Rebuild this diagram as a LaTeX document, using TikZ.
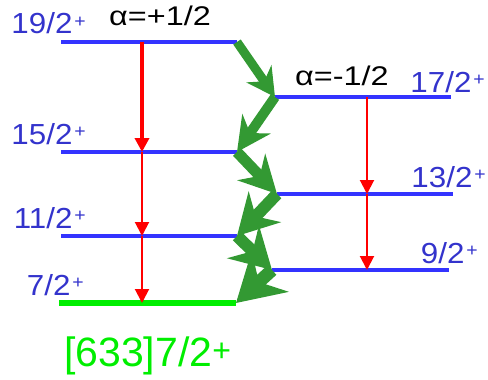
\documentclass[tikz,border=0pt]{standalone}
\usepackage{fontspec}
\setmainfont{Liberation Sans}
\newfontfamily\widefont[FakeStretch=1.08]{Liberation Sans}
\newfontfamily\sigfont[FakeStretch=1.2]{Liberation Sans}
\usetikzlibrary{arrows.meta,calc}
\definecolor{lvlblue}{HTML}{3333FF}
\definecolor{txtblue}{HTML}{3333CC}
\definecolor{bandgreen}{HTML}{339933}
\definecolor{gsgreen}{HTML}{00EE00}
\newcommand{\jpi}[3][18]{#3\kern2pt\raisebox{#2}{\fontsize{#1}{#1}\selectfont +}}
\tikzset{>=Latex,level/.style={lvlblue,line width=3.5pt},gslevel/.style={gsgreen,line width=5.5pt},spinlbl/.style={text=txtblue,font=\widefont\fontsize{29}{31}\selectfont,inner sep=0pt},sigtxt/.style={font=\sigfont\fontsize{27}{30}\selectfont,inner sep=0pt},gam/.style={-{Triangle[length=14pt,width=14pt]},red,line width=2pt},mone/.style n args={4}{-{Stealth[length=#1pt,width=#2pt,inset=#3pt]},bandgreen,line width=#4pt}}

\begin{document}
\begin{tikzpicture}[x=1pt,y=-1pt]
\useasboundingbox (0,0) rectangle (488,380);
% alpha=+1/2 band
\coordinate (w19) at (61,42); \coordinate (e19) at (237,42);
\coordinate (w15) at (61,152); \coordinate (e15) at (237,152);
\coordinate (w11) at (61,236); \coordinate (e11) at (237,236);
\coordinate (w7) at (59,303); \coordinate (e7) at (236,303);
% alpha=-1/2 band
\coordinate (w17) at (275,97); \coordinate (e17) at (451,97);
\coordinate (w13) at (277,194); \coordinate (e13) at (453,194);
\coordinate (w9) at (272,270); \coordinate (e9) at (449,270);
\foreach \s in {19,15,11,17,13,9}
\draw[level] (w\s) -- (e\s);
\draw[gslevel] (w7) -- (e7);
% spin labels
\foreach \s in {19,15,11,7}
\node[spinlbl,anchor=base east] (j\s) at ([shift={(25,-8)}]w\s) {\jpi{6.5pt}{\s/2}};
\node[spinlbl,anchor=base east] (j17) at ([shift={(34,-5)}]e17) {\jpi{7pt}{17/2}};
\node[spinlbl,anchor=base east] (j13) at ([shift={(33,-7)}]e13) {\jpi{7pt}{13/2}};
\node[spinlbl,anchor=base east] (j9) at ([shift={(29,-7)}]e9) {\jpi{7pt}{9/2}};
\node[sigtxt,anchor=base west] (sp) at (109,26) {α=+1/2};
\node[sigtxt,anchor=base west] (sm) at (295,85) {α=-1/2};
\node[text=gsgreen,font=\fontsize{41}{44}\selectfont,inner sep=0pt,anchor=base west] (nil) at (64,366) {[633]7/2\raisebox{4.8pt}{\fontsize{32}{32}\selectfont +}};
% E2 transitions
\coordinate (g19) at (142,42); \coordinate (g15) at (142,152);
\coordinate (g11) at (142,236); \coordinate (g7) at (142,303);
\coordinate (g17) at (367,97); \coordinate (g13) at (367,194);
\coordinate (g9) at (367,270);
\draw[gam,line width=3.5pt] (g19) -- (g15);
\draw[gam] (g15) -- (g11);
\draw[gam] (g11) -- (g7);
\draw[gam] (g17) -- (g13);
\draw[gam] (g13) -- (g9);
% M1 transitions
\draw[mone={28}{30}{9}{9}] (e19) -- (w17);
\draw[mone={34}{34}{11}{10}] (w17) -- (e15);
\draw[mone={37}{38}{12}{11}] (e15) -- (w13);
\draw[mone={40}{44}{13}{12}] (w13) -- (e11);
\draw[mone={40}{45}{13}{12}] (e11) -- (w9);
\draw[mone={46}{54}{15}{13}] (w9) -- (e7);
\end{tikzpicture}
\end{document}
